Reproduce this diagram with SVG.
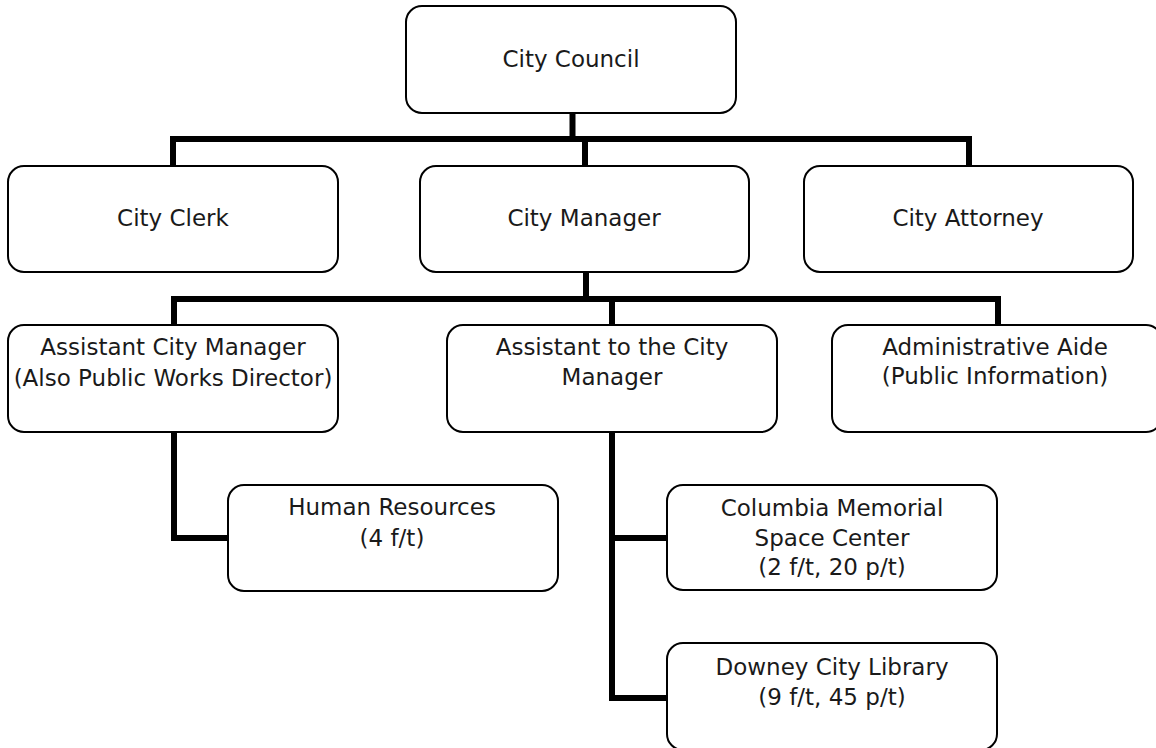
<svg xmlns="http://www.w3.org/2000/svg" width="1156" height="748" viewBox="0 0 1156 748">
  <style>
    .box { fill: #ffffff; stroke: #000000; stroke-width: 2; }
    .lbl { font-family: "DejaVu Sans", "Liberation Sans", sans-serif; font-size: 23px; fill: #1a1a1a; text-anchor: middle; }
    .wire { fill: none; stroke: #000000; stroke-width: 6; stroke-linejoin: miter; stroke-linecap: butt; }
  </style>
  <rect width="1156" height="748" fill="#ffffff"/>

  <!-- reporting lines -->
  <g id="connectors">
    <path class="wire" d="M572.5,113 V139"/>
    <path class="wire" d="M173,166 V139 H969 V166"/>
    <path class="wire" d="M585,139 V166"/>
    <path class="wire" d="M586,272 V299"/>
    <path class="wire" d="M174,325 V299 H998 V325"/>
    <path class="wire" d="M612,299 V325"/>
    <path class="wire" d="M174,432 V538 H228"/>
    <path class="wire" d="M612,432 V698 H667"/>
    <path class="wire" d="M612,538 H667"/>
  </g>

  <g id="city-council">
    <rect class="box" x="406" y="6" width="330" height="107" rx="16"/>
    <text class="lbl" x="571" y="67">City Council</text>
  </g>

  <g id="city-clerk">
    <rect class="box" x="8" y="166" width="330" height="106" rx="16"/>
    <text class="lbl" x="173" y="226">City Clerk</text>
  </g>

  <g id="city-manager">
    <rect class="box" x="420" y="166" width="329" height="106" rx="16"/>
    <text class="lbl" x="584" y="226">City Manager</text>
  </g>

  <g id="city-attorney">
    <rect class="box" x="804" y="166" width="329" height="106" rx="16"/>
    <text class="lbl" x="968" y="226">City Attorney</text>
  </g>

  <g id="assistant-city-manager">
    <rect class="box" x="8" y="325" width="330" height="107" rx="16"/>
    <text class="lbl" x="173" y="355">Assistant City Manager</text>
    <text class="lbl" x="173" y="386">(Also Public Works Director)</text>
  </g>

  <g id="assistant-to-city-manager">
    <rect class="box" x="447" y="325" width="330" height="107" rx="16"/>
    <text class="lbl" x="612" y="355">Assistant to the City</text>
    <text class="lbl" x="612" y="385">Manager</text>
  </g>

  <g id="administrative-aide">
    <rect class="box" x="832" y="325" width="330" height="107" rx="16"/>
    <text class="lbl" x="995" y="355">Administrative Aide</text>
    <text class="lbl" x="995" y="384">(Public Information)</text>
  </g>

  <g id="human-resources">
    <rect class="box" x="228" y="485" width="330" height="106" rx="16"/>
    <text class="lbl" x="392" y="515">Human Resources</text>
    <text class="lbl" x="392" y="546">(4 f/t)</text>
  </g>

  <g id="space-center">
    <rect class="box" x="667" y="485" width="330" height="105" rx="16"/>
    <text class="lbl" x="832" y="516">Columbia Memorial</text>
    <text class="lbl" x="832" y="546">Space Center</text>
    <text class="lbl" x="832" y="575">(2 f/t, 20 p/t)</text>
  </g>

  <g id="city-library">
    <rect class="box" x="667" y="643" width="330" height="107" rx="16"/>
    <text class="lbl" x="832" y="675">Downey City Library</text>
    <text class="lbl" x="832" y="705">(9 f/t, 45 p/t)</text>
  </g>
</svg>
